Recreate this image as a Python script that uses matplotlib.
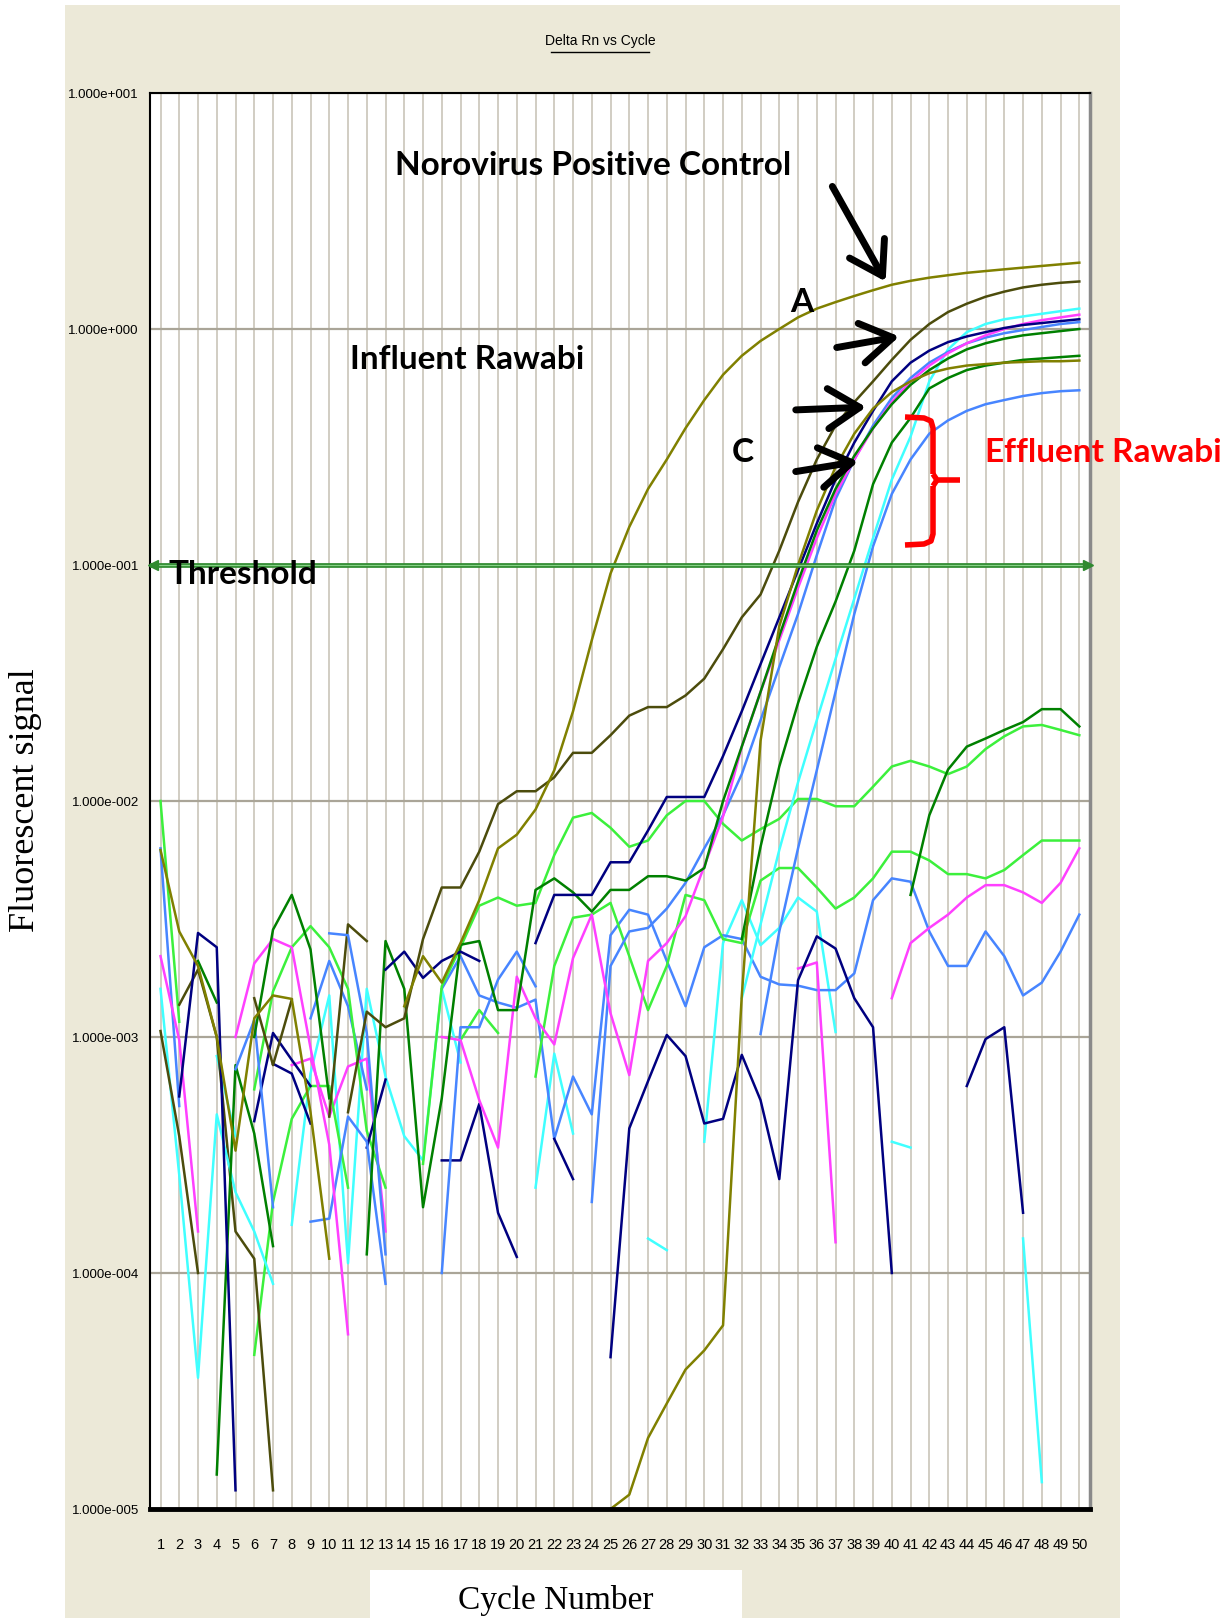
import numpy as np
import matplotlib
matplotlib.use("Agg")
import matplotlib.pyplot as plt
from matplotlib.patches import Rectangle
from matplotlib.ticker import NullLocator

N = np.nan

# cycle numbers and Delta Rn readings (log plot, gaps = negative values)
cycles = np.arange(1, 51)

pos_control = [
    6.2e-3, 2.8e-3, 2.0e-3, 1.0e-3, 3.3e-4, 1.2e-3, 1.5e-3, 1.45e-3, 4.8e-4, 1.15e-4,
    N, N, N, 1.35e-3, 2.2e-3, 1.7e-3, 2.5e-3, 3.8e-3, 6.3e-3, 7.2e-3,
    9.2e-3, 1.35e-2, 2.4e-2, 4.8e-2, 9.2e-2, 0.145, 0.21, 0.28, 0.38, 0.50,
    0.64, 0.77, 0.89, 1.0, 1.12, 1.22, 1.30, 1.38, 1.46, 1.54,
    1.60, 1.65, 1.69, 1.73, 1.76, 1.79, 1.82, 1.85, 1.88, 1.91]

influent_a = [
    1.06e-3, 3.8e-4, 1.0e-4, N, N, 1.46e-3, 7.6e-4, 1.44e-3, N, N,
    4.8e-4, 1.28e-3, 1.1e-3, 1.2e-3, 2.6e-3, 4.3e-3, 4.3e-3, 6.1e-3, 9.7e-3, 1.1e-2,
    1.1e-2, 1.26e-2, 1.6e-2, 1.6e-2, 1.9e-2, 2.3e-2, 2.5e-2, 2.5e-2, 2.8e-2, 3.3e-2,
    4.4e-2, 6.0e-2, 7.5e-2, 0.115, 0.185, 0.28, 0.39, 0.49, 0.60, 0.74,
    0.90, 1.05, 1.18, 1.28, 1.37, 1.44, 1.50, 1.54, 1.57, 1.59]

dkolive_2 = [
    N, 1.37e-3, 1.93e-3, 1.0e-3, 1.5e-4, 1.15e-4, 1.2e-5, N, N, 4.6e-4,
    3.0e-3, 2.55e-3] + [N] * 38

olive_c = [N] * 24 + [
    1.0e-5, 1.15e-5, 2.0e-5, 2.8e-5, 3.9e-5, 4.7e-5,
    6.0e-5, 1.5e-3, 1.8e-2, 5.5e-2, 0.10, 0.17, 0.26, 0.36, 0.46, 0.54,
    0.60, 0.65, 0.68, 0.70, 0.71, 0.72, 0.725, 0.73, 0.73, 0.735]

navy_amp = [
    N, 5.6e-4, 2.76e-3, 2.4e-3, 1.2e-5, N, 7.7e-4, 7.0e-4, 4.3e-4, N,
    N, N, 1.93e-3, 2.3e-3, 1.78e-3, 2.1e-3, 2.3e-3, 2.1e-3, N, N,
    2.5e-3, 4.0e-3, 4.0e-3, 4.0e-3, 5.5e-3, 5.5e-3, 7.5e-3, 1.04e-2, 1.04e-2, 1.04e-2,
    1.55e-2, 2.4e-2, 3.8e-2, 6.0e-2, 0.095, 0.15, 0.23, 0.33, 0.45, 0.60,
    0.72, 0.81, 0.88, 0.93, 0.97, 1.01, 1.04, 1.06, 1.08, 1.10]

navy_noise = [
    N, N, N, N, N, 4.4e-4, 1.04e-3, 8.0e-4, 6.2e-4, N,
    N, 3.4e-4, 6.6e-4, N, N, 3.0e-4, 3.0e-4, 5.2e-4, 1.8e-4, 1.17e-4,
    N, 3.7e-4, 2.5e-4, N, 4.4e-5, 4.1e-4, 6.5e-4, 1.02e-3, 8.3e-4, 4.3e-4,
    4.5e-4, 8.4e-4, 5.4e-4, 2.5e-4, 1.74e-3, 2.67e-3, 2.37e-3, 1.46e-3, 1.1e-3, 1.0e-4,
    N, N, N, 6.2e-4, 9.8e-4, 1.1e-3, 1.8e-4, N, N, N]

dkgreen_a = [
    N, N, 2.1e-3, 1.4e-3, N, 1.0e-3, 2.85e-3, 4.0e-3, 2.35e-3, 5.5e-4,
    N, 1.2e-4, 2.55e-3, 1.6e-3, 1.9e-4, 5.5e-4, 2.46e-3, 2.55e-3, 1.3e-3, 1.3e-3,
    4.2e-3, 4.7e-3, 4.1e-3, 3.4e-3, 4.2e-3, 4.2e-3, 4.8e-3, 4.8e-3, 4.6e-3, 5.2e-3,
    1.0e-2, 1.7e-2, 2.9e-2, 5.0e-2, 0.085, 0.14, 0.21, 0.29, 0.38, 0.48,
    0.58, 0.67, 0.75, 0.82, 0.87, 0.91, 0.94, 0.96, 0.98, 1.0]

dkgreen_b = [
    N, N, N, 1.4e-5, 7.6e-4, 3.9e-4, 1.3e-4] + [N] * 24 + [
    2.6e-3, 6.4e-3, 1.4e-2, 2.6e-2, 4.5e-2, 7.0e-2, 0.115, 0.22, 0.33,
    0.42, 0.56, 0.62, 0.67, 0.70, 0.72, 0.74, 0.75, 0.76, 0.77]

dkgreen_c = [N] * 40 + [
    4.0e-3, 8.7e-3, 1.36e-2, 1.7e-2, 1.84e-2, 2.0e-2, 2.16e-2, 2.45e-2, 2.45e-2, 2.07e-2]

green_1 = [
    1.0e-2, 1.16e-3, N, N, N, 6.0e-4, 1.56e-3, 2.4e-3, 2.95e-3, 2.4e-3,
    1.6e-3, 4.0e-4, 2.3e-4, N, 2.9e-4, 1.64e-3, 2.4e-3, 3.6e-3, 3.9e-3, 3.6e-3,
    3.7e-3, 5.9e-3, 8.5e-3, 8.9e-3, 7.7e-3, 6.4e-3, 6.8e-3, 8.7e-3, 1.0e-2, 1.0e-2,
    8.0e-3, 6.8e-3, 7.6e-3, 8.4e-3, 1.02e-2, 1.02e-2, 9.5e-3, 9.5e-3, 1.15e-2, 1.4e-2,
    1.48e-2, 1.4e-2, 1.3e-2, 1.4e-2, 1.66e-2, 1.88e-2, 2.07e-2, 2.1e-2, 2.0e-2, 1.9e-2]

green_2 = [
    N, N, N, N, N, 4.5e-5, 2.0e-4, 4.5e-4, 6.2e-4, 6.2e-4,
    2.3e-4, N, N, N, N, N, 9.7e-4, 1.3e-3, 1.04e-3, N,
    6.8e-4, 2.0e-3, 3.2e-3, 3.3e-3, 3.7e-3, 2.2e-3, 1.3e-3, 2.0e-3, 4.0e-3, 3.8e-3,
    2.6e-3, 2.5e-3, 4.6e-3, 5.2e-3, 5.2e-3, 4.3e-3, 3.5e-3, 3.9e-3, 4.7e-3, 6.1e-3,
    6.1e-3, 5.6e-3, 4.9e-3, 4.9e-3, 4.7e-3, 5.1e-3, 5.9e-3, 6.8e-3, 6.8e-3, 6.8e-3]

magenta_amp = [
    2.2e-3, 9.7e-4, 1.5e-4, N, 1.0e-3, 2.05e-3, 2.6e-3, 2.4e-3, 9.0e-4, 3.5e-4,
    5.5e-5, N, N, N, N, 1.0e-3, 9.7e-4, 5.4e-4, 3.4e-4, 1.8e-3,
    1.2e-3, 9.3e-4, 2.16e-3, 3.3e-3, 1.26e-3, 6.9e-4, 2.1e-3, 2.5e-3, 3.25e-3, 5.3e-3,
    8.6e-3, 1.7e-2, 2.9e-2, 4.8e-2, 0.08, 0.13, 0.20, 0.28, 0.38, 0.49,
    0.60, 0.70, 0.79, 0.87, 0.94, 1.0, 1.05, 1.09, 1.12, 1.15]

magenta_2 = [N] * 7 + [7.6e-4, 8.1e-4, 4.6e-4, 7.5e-4, 8.1e-4, 1.5e-4] + [N] * 21 + [
    1.95e-3, 2.07e-3, 1.35e-4, N, N, 1.46e-3, 2.5e-3, 2.9e-3, 3.3e-3, 3.9e-3,
    4.4e-3, 4.4e-3, 4.1e-3, 3.7e-3, 4.5e-3, 6.3e-3]

blue_amp = [
    6.3e-3, 5.1e-4, N, N, 7.3e-4, 1.18e-3, 1.9e-4, N, 1.65e-4, 1.7e-4,
    4.6e-4, 3.6e-4, 9e-5, N, N, 1.0e-4, 1.1e-3, 1.1e-3, 1.75e-3, 2.3e-3,
    1.64e-3, N, N, 2.0e-4, 2.0e-3, 2.8e-3, 2.9e-3, 3.5e-3, 4.5e-3, 6.3e-3,
    8.7e-3, 1.3e-2, 2.2e-2, 3.7e-2, 0.062, 0.11, 0.19, 0.28, 0.39, 0.51,
    0.62, 0.72, 0.80, 0.87, 0.92, 0.96, 0.99, 1.02, 1.05, 1.07]

blue_2 = [
    N, N, N, N, N, N, N, N, 1.2e-3, 2.1e-3,
    1.35e-3, 6.0e-4, N, N, N, 1.6e-3, 2.2e-3, 1.5e-3, 1.4e-3, 1.33e-3,
    1.44e-3, 3.7e-4, 6.8e-4, 4.7e-4, 2.7e-3, 3.46e-3, 3.3e-3, 2.1e-3, 1.35e-3, 2.4e-3,
    2.7e-3, 2.6e-3, 1.8e-3, 1.67e-3, 1.65e-3, 1.58e-3, 1.58e-3, 1.86e-3, 3.8e-3, 4.7e-3,
    4.55e-3, 2.8e-3, 2.0e-3, 2.0e-3, 2.8e-3, 2.2e-3, 1.5e-3, 1.7e-3, 2.3e-3, 3.3e-3]

blue_low = [N] * 9 + [2.75e-3, 2.7e-3, 1.04e-3, 1.2e-4] + [N] * 19 + [
    1.03e-3, 2.8e-3, 6.3e-3, 1.35e-2, 2.9e-2, 6.2e-2, 0.12, 0.20, 0.28, 0.36,
    0.41, 0.45, 0.48, 0.50, 0.52, 0.535, 0.545, 0.55]

cyan_amp = [
    1.6e-3, 2.6e-4, 3.6e-5, 4.7e-4, 2.2e-4, 1.5e-4, 9e-5] + [N] * 24 + [
    1.46e-3, 3.0e-3, 6.2e-3, 1.2e-2, 2.2e-2, 4.0e-2, 7.2e-2, 0.13, 0.23,
    0.35, 0.60, 0.82, 0.97, 1.05, 1.10, 1.13, 1.16, 1.19, 1.22]

cyan_2 = [
    N, N, N, 8.3e-4, 3.8e-4, N, N, 1.6e-4, 7.0e-4, 1.5e-3,
    1.1e-4, 1.6e-3, 6.8e-4, 3.8e-4, 3.0e-4, 1.6e-3, 7.8e-4, N, N, N,
    2.3e-4, 8.5e-4, 3.9e-4, N, N, N, 1.4e-4, 1.25e-4, N, 3.6e-4,
    2.5e-3, 3.8e-3, 2.45e-3, 2.9e-3, 3.9e-3, 3.4e-3, 1.05e-3, N, N, 3.6e-4,
    3.4e-4, N, N, N, N, N, 1.4e-4, 1.3e-5, N, N]

OLIVE = "#808000"
DKOLIVE = "#4c4c0c"
NAVY = "#000080"
DKGREEN = "#008000"
GREEN = "#3cf03c"
MAGENTA = "#ff40ff"
BLUE = "#4785ff"
CYAN = "#40ffff"

series = [
    (cyan_2, CYAN), (blue_2, BLUE), (magenta_2, MAGENTA), (green_2, GREEN),
    (green_1, GREEN), (navy_noise, NAVY), (dkgreen_c, DKGREEN), (dkolive_2, DKOLIVE),
    (blue_low, BLUE), (cyan_amp, CYAN), (dkgreen_b, DKGREEN), (blue_amp, BLUE),
    (magenta_amp, MAGENTA), (dkgreen_a, DKGREEN), (navy_amp, NAVY),
    (olive_c, OLIVE), (influent_a, DKOLIVE), (pos_control, OLIVE),
]

W, H = 1226, 1618
fig = plt.figure(figsize=(W / 100, H / 100), dpi=100)

# background panel
bg = fig.add_axes([0, 0, 1, 1])
bg.set_xlim(0, W)
bg.set_ylim(H, 0)
bg.axis("off")
bg.add_patch(Rectangle((65, 5), 1055, 1613, color="#ece9d8", lw=0))
bg.add_patch(Rectangle((370, 1570), 372, 48, color="white", lw=0))

# plot area
ax = fig.add_axes([150 / W, 1 - 1509 / H, 940 / W, (1509 - 93) / H])
ax.set_zorder(1)
ax.set_facecolor("white")
ax.set_yscale("log")
ax.set_ylim(1e-5, 10)
ax.set_xlim(0.44, 50.57)

ax.set_xticks(cycles)
ax.set_xticklabels([str(c) for c in cycles], fontsize=10.5, family="Liberation Sans")
decades = [1e-5, 1e-4, 1e-3, 1e-2, 1e-1, 1e0, 1e1]
ax.set_yticks(decades)
ax.set_yticklabels(["1.000e-005", "1.000e-004", "1.000e-003", "1.000e-002",
                    "1.000e-001", "1.000e+000", "1.000e+001"],
                   fontsize=9.5, family="Liberation Sans")
ax.yaxis.set_minor_locator(NullLocator())
ax.tick_params(axis="x", length=0, pad=21)
ax.tick_params(axis="y", length=0, pad=8)
ax.grid(axis="x", color="#c9c5b9", lw=1.2)
ax.grid(axis="y", color="#aaa598", lw=1.6)
ax.set_axisbelow(True)

for sp in ["left", "top"]:
    ax.spines[sp].set_color("black")
    ax.spines[sp].set_linewidth(1.5)
ax.spines["bottom"].set_color("black")
ax.spines["bottom"].set_linewidth(3.5)
ax.spines["right"].set_color("#8a8a8a")
ax.spines["right"].set_linewidth(2.5)

for vals, col in series:
    ax.plot(cycles, vals, color=col, lw=1.8)

# threshold line
ax.axhline(0.1, color="#2f8a2f", lw=3.4, zorder=5)
ax.axhline(0.1, color="#86d086", lw=0.9, zorder=5)
ax.plot([0.6], [0.1], marker="<", ms=7, color="#2f8a2f", clip_on=False, zorder=6)
ax.plot([50.45], [0.1], marker=">", ms=7, color="#2f8a2f", clip_on=False, zorder=6)

# overlay for labels and annotations (pixel coordinates)
ov = fig.add_axes([0, 0, 1, 1])
ov.set_zorder(2)
ov.set_xlim(0, W)
ov.set_ylim(H, 0)
ov.axis("off")

ov.text(600, 41, "Delta Rn vs Cycle", fontsize=10, ha="center", va="center",
        family="Liberation Sans")
ov.plot([551, 649], [52, 52], color="black", lw=1)

ov.text(26, 800, "Fluorescent signal", rotation=90, fontsize=26,
        family="Liberation Serif", ha="center", va="center")
ov.text(556, 1600, "Cycle Number", fontsize=24, family="Liberation Serif",
        ha="center", va="center")

bold = dict(family="Lato", fontweight="bold", fontsize=24, va="center")
ov.text(593, 165, "Norovirus Positive Control", ha="center", **bold)
ov.text(467, 359, "Influent Rawabi", ha="center", **bold)
ov.text(802, 302, "A", ha="center", **bold)
ov.text(743, 452, "C", ha="center", **bold)
ov.text(243, 575, "Threshold", ha="center", **bold)
ov.text(1103, 452, "Effluent Rawabi", ha="center", color="#ff0000", **bold)

arrow_props = dict(arrowstyle="->,head_length=0.95,head_width=0.6", lw=5,
                   color="black", mutation_scale=24)
arrows = [((831, 184), (887, 284)), ((834, 348), (902, 336)),
          ((793, 410), (869, 407)), ((793, 472), (861, 461))]
for tail, tip in arrows:
    ov.annotate("", xy=tip, xytext=tail, arrowprops=arrow_props)

# red brace
red = dict(color="#ff0000", lw=4, solid_capstyle="butt", solid_joinstyle="round")
ov.plot([905, 924, 931, 933, 933], [417, 418, 421, 428, 474], **red)
ov.plot([933, 933, 931, 924, 905], [486, 534, 541, 544, 545], **red)
ov.plot([933, 937, 960], [474, 480, 480], **red)
ov.plot([933, 937], [486, 480], **red)

fig.savefig("out.png", dpi=100)
